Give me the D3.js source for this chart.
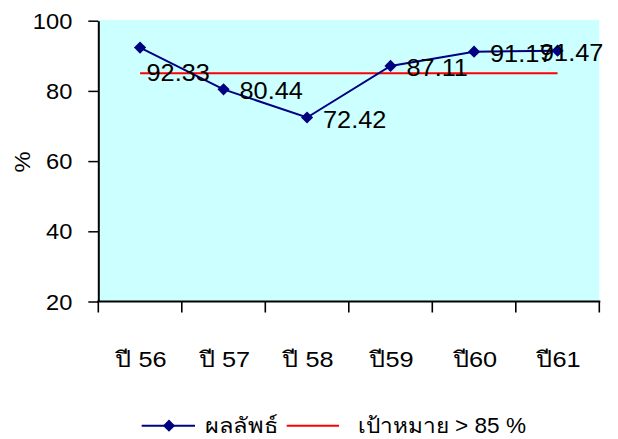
<!DOCTYPE html>
<html>
<head>
<meta charset="utf-8">
<script src="https://cdn.jsdelivr.net/npm/d3@7"></script>
<style>
  html, body { margin: 0; padding: 0; background: #ffffff; }
  svg { display: block; }
  text { font-family: "Liberation Sans", Arial, "Noto Sans", sans-serif; fill: #000; }
</style>
</head>
<body>
<svg id="chart" width="618" height="439"></svg>
<script>
// ---- data ----
const categories = ["ปี 56", "ปี 57", "ปี 58", "ปี59", "ปี60", "ปี61"];
const resultValues = [92.33, 80.44, 72.42, 87.11, 91.17, 91.47];
const targetValue = 85;
const yTicks = [20, 40, 60, 80, 100];
const yTitle = "%";
const seriesNames = ["ผลลัพธ์", "เป้าหมาย > 85 %"];

// ---- layout ----
const W = 618, H = 439;
const plot = { left: 98.3, right: 599.3, top: 20.7, bottom: 301.5 };
const SX = 1.1; // horizontal text stretch seen in the reference
const navy = "#000080", red = "#ff0000", bg = "#ccffff";

const svg = d3.select("#chart");

const x = d3.scaleBand().domain(categories).range([plot.left, plot.right]).padding(0);
const cx = d => x(d) + x.bandwidth() / 2;
const y = d3.scaleLinear().domain([20, 100]).range([plot.bottom, plot.top]);

// plot background
svg.append("rect")
  .attr("x", plot.left).attr("y", y(100) - 0.7)
  .attr("width", plot.right - plot.left).attr("height", plot.bottom - y(100) + 0.7)
  .attr("fill", bg);

// target line (from first to last category centre)
svg.append("line")
  .attr("x1", cx(categories[0])).attr("x2", cx(categories[categories.length - 1]))
  .attr("y1", y(targetValue)).attr("y2", y(targetValue))
  .attr("stroke", red).attr("stroke-width", 2);

// result line
const pts = categories.map((c, i) => ({ c, v: resultValues[i], i }));
svg.append("path")
  .datum(pts)
  .attr("fill", "none").attr("stroke", navy).attr("stroke-width", 2)
  .attr("d", d3.line().x(d => cx(d.c)).y(d => y(d.v)));

const diamond = d3.symbol().type(d3.symbolSquare).size(74);
svg.selectAll(".pt").data(pts).enter().append("path")
  .attr("class", "pt")
  .attr("d", diamond)
  .attr("fill", navy)
  .attr("transform", d => `translate(${cx(d.c)},${y(d.v)}) rotate(45)`);

// data labels
const fmt = d3.format(".2f");
svg.selectAll(".lbl").data(pts).enter().append("text")
  .attr("class", "lbl")
  .style("font-size", "23px")
  .attr("text-anchor", d => d.i === pts.length - 1 ? "end" : "start")
  .attr("transform", d => {
    let px = cx(d.c) + 16, py = y(d.v) + 10;
    if (d.i === 0) { px = cx(d.c) + 6.5; py = y(d.v) + 33; }
    if (d.i === pts.length - 1) { px = plot.right + 4; }
    return `translate(${px},${py}) scale(${SX},1)`;
  })
  .text(d => fmt(d.v));

// y axis
const yAxis = d3.axisLeft(y).tickValues(yTicks).tickSize(10).tickSizeOuter(0).tickPadding(0);
const gy = svg.append("g").attr("transform", `translate(${plot.left},0)`).call(yAxis);
gy.select(".domain").attr("stroke", "#000").attr("stroke-width", 2);
gy.selectAll(".tick line").attr("stroke", "#000").attr("stroke-width", 1.5);
gy.selectAll(".tick text")
  .attr("x", null).attr("dy", null)
  .attr("transform", `translate(-26,7.5) scale(${SX},1)`)
  .style("font-size", "21.5px").style("font-family", null);

// x axis (labels centred, ticks between categories)
const xAxis = d3.axisBottom(x).tickSize(0).tickSizeOuter(0).tickPadding(0);
const gx = svg.append("g").attr("transform", `translate(0,${plot.bottom})`).call(xAxis);
gx.select(".domain").attr("stroke", "#000").attr("stroke-width", 2.2)
  .attr("d", `M${plot.left - 1},0H${plot.right + 1}`);
gx.selectAll(".tick text")
  .attr("y", null).attr("dy", null)
  .attr("transform", `translate(1,65) scale(1.15,1)`)
  .style("font-size", "22px").style("font-family", null);
const edges = categories.map(c => x(c)).concat([x(categories[categories.length - 1]) + x.bandwidth()]);
gx.selectAll(".edge").data(edges).enter().append("line")
  .attr("class", "edge")
  .attr("x1", d => d).attr("x2", d => d)
  .attr("y1", 0).attr("y2", 11)
  .attr("stroke", "#000").attr("stroke-width", 1.6);

// y title
svg.append("text")
  .attr("text-anchor", "middle")
  .attr("transform", `translate(30,162) rotate(-90) scale(${SX},1)`)
  .style("font-size", "21.5px")
  .text(yTitle);

// legend
const ly = 425.7;
const leg = svg.append("g");
leg.append("line").attr("x1", 141.7).attr("x2", 195).attr("y1", ly).attr("y2", ly)
  .attr("stroke", navy).attr("stroke-width", 2);
leg.append("path").attr("d", diamond).attr("fill", navy)
  .attr("transform", `translate(169,${ly}) rotate(45)`);
leg.append("text").attr("transform", `translate(205,433) scale(${SX},1)`)
  .style("font-size", "21.5px").text(seriesNames[0]);
leg.append("line").attr("x1", 286.7).attr("x2", 339).attr("y1", ly).attr("y2", ly)
  .attr("stroke", red).attr("stroke-width", 2);
leg.append("text").attr("transform", `translate(357.7,433) scale(1.05,1)`)
  .style("font-size", "21.5px").text(seriesNames[1]);
</script>
</body>
</html>
